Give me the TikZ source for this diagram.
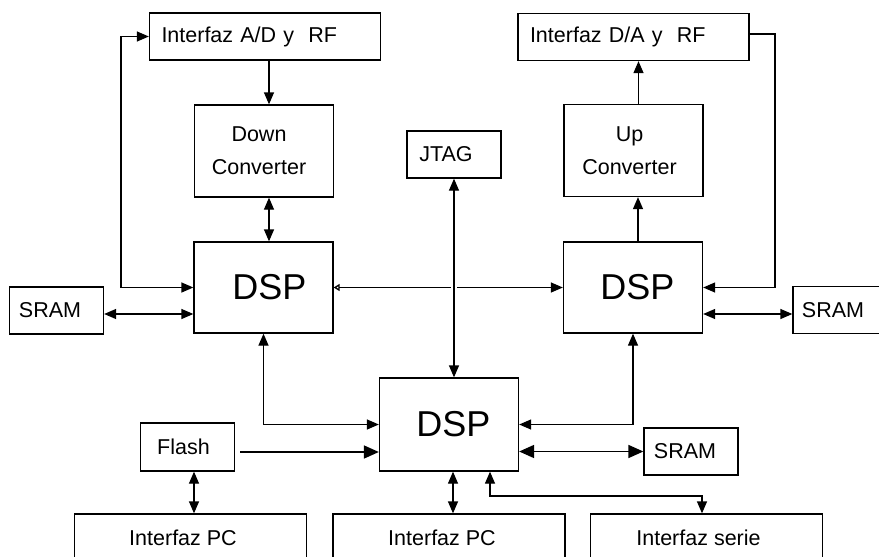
\documentclass[tikz,border=0pt]{standalone}
\usepackage{fontspec}
\setmainfont{Liberation Sans}
\usetikzlibrary{arrows.meta,calc}
\begin{document}
\begin{tikzpicture}[x=1pt,y=-1pt,
  bx/.style={draw, line width=1.3pt, inner sep=0pt, font=\fontsize{21.5}{33}\selectfont, align=center},
  iface/.style={bx, minimum height=47pt, text width=207pt, inner xsep=12pt, align=left},
  convbox/.style={bx, minimum width=139pt, minimum height=92pt},
  dspbox/.style={bx, minimum width=139pt, minimum height=91pt, font=\fontsize{36}{40}\selectfont},
  smallbox/.style={bx, minimum width=94pt, minimum height=47pt},
  lowbox/.style={bx, minimum width=232pt, minimum height=47pt},
  ln/.style={line width=1.3pt},
  thick ln/.style={line width=1.7pt},
  ar/.tip={Triangle[length=12pt,width=10pt]},
  br/.tip={Triangle[length=15pt,width=13pt]},
  op/.tip={Triangle[open,length=6pt,width=7pt]}
]
\fill[white] (0,0) rectangle (879,557);
\useasboundingbox (0,0) rectangle (879,557);
\clip (0,0) rectangle (879,557);

% boxes
\node[iface] (ad) at (265,36.5) {Interfaz A/D y~~RF};
\node[iface] (da) at (633.5,37) {Interfaz D/A y~~RF};
\node[convbox] (down) at (264,151) {Down\hspace*{10pt}\\Converter\hspace*{10pt}};
\node[convbox] (up) at (633.5,150.5) {Up\hspace*{8pt}\\Converter\hspace*{8pt}};
\node[smallbox] (jtag) at (454,154.5) {JTAG\hspace*{16pt}};
\node[dspbox] (dspL) at (263.5,287.5) {\hspace*{12pt}DSP};
\node[dspbox] (dspR) at (633,287.5) {\hspace*{9pt}DSP};
\node[dspbox, minimum height=93pt] (dspB) at (449,424.5) {\hspace*{9pt}DSP};
\node[smallbox] (sramL) at (56.5,310.5) {SRAM\hspace*{13pt}};
\node[smallbox] (sramR) at (840,310) {SRAM\hspace*{14pt}};
\node[smallbox] (sramB) at (691,451.5) {SRAM\hspace*{12pt}};
\node[smallbox, minimum height=48pt] (flash) at (187.5,447) {Flash\hspace*{8pt}};
\node[lowbox] (pc1) at (190.5,537.5) {Interfaz PC\hspace*{15pt}};
\node[lowbox] (pc2) at (449,537.5) {Interfaz PC\hspace*{14pt}};
\node[lowbox] (serie) at (706.5,537.5) {Interfaz serie\hspace*{16pt}};

\coordinate (lx) at (121,0);
\coordinate (rx) at (775,0);
\coordinate (sj) at (702,496);

% left chain
\draw[ln,-ar] ([xshift=5pt]down.north |- ad.south) -- ([xshift=5pt]down.north);
\draw[ln,ar-ar] ([xshift=5pt]down.south) -- ([xshift=5pt]down.south |- dspL.north);
\draw[ln,ar-ar] (dspL.west) -- (dspL.west -| lx) |- (ad.west);
\draw[ln,ar-ar] ([yshift=-3.5pt]sramL.east) -- ([yshift=-3.5pt]sramL.east -| dspL.west);

% DSP to DSP
\draw[ln,op-ar] (dspL.east) -- (dspR.west);

% JTAG
\draw[ln,ar-ar,preaction={draw=white,line width=6pt,arrows=-,shorten <=20pt,shorten >=20pt}]
  (jtag.south) -- (jtag.south |- dspB.north);

% bottom DSP links
\draw[ln,ar-ar] (dspL.south) |- (dspB.west);
\draw[thick ln,-br] ([shift={(5pt,-5pt)}]flash.east) -- ([yshift=-5pt]flash.east -| dspB.west);
\draw[ln,ar-ar] ([xshift=6.5pt]flash.south) -- ([xshift=6.5pt]flash.south |- pc1.north);
\draw[ln,ar-ar] ([xshift=4pt]dspB.south) -- ([xshift=4pt]dspB.south |- pc2.north);
\draw[ln,ar-ar] ([xshift=41pt]dspB.south) |- (sj) -- (sj |- serie.north);
\draw[ln,ar-ar] (dspB.east) -| (dspR.south);
\draw[thick ln,br-br] (sramB.west -| dspB.east) -- (sramB.west);

% right chain
\draw[ln,-ar] ([xshift=5pt]dspR.north) -- ([xshift=5pt]dspR.north |- up.south);
\draw[ln,-ar] ([xshift=5pt]up.north) -- ([xshift=5pt]up.north |- da.south);
\draw[ln,-ar] ([yshift=3pt]da.east) -- ([yshift=3pt]da.east -| rx) |- (dspR.east);
\draw[ln,ar-ar] ([yshift=-26.5pt]dspR.east) -- ([yshift=-26.5pt]dspR.east -| sramR.west);
\end{tikzpicture}
\end{document}
